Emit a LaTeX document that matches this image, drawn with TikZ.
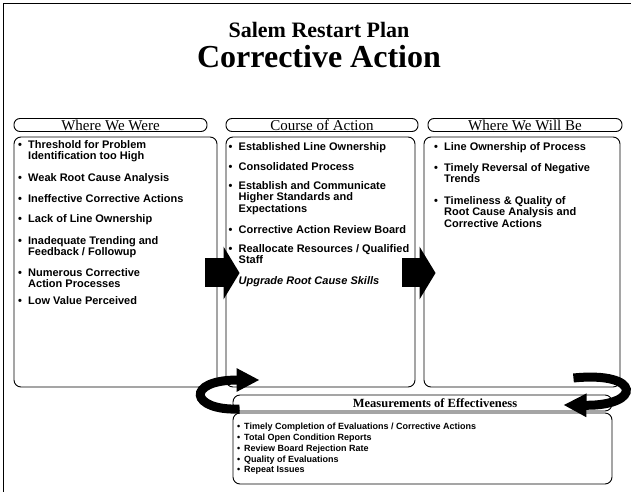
\documentclass[tikz,border=0pt]{standalone}
\usepackage{fontspec}
\setmainfont{Liberation Serif}
\newfontfamily\bsans{Liberation Sans}
\usetikzlibrary{arrows.meta,calc}
\newcommand\mybul{\makebox[10pt][l]{\textbullet}}
\newcommand\myind{\hspace*{10pt}}
\newcommand\mysbul{\makebox[7pt][l]{\textbullet}}
\begin{document}
\begin{tikzpicture}[x=1pt,y=-1pt,
  pill/.style={draw, rounded corners=6pt, line width=0.9pt, inner sep=0pt, minimum height=13pt, font=\fontsize{15}{15}\selectfont},
  colbox/.style={draw, rounded corners=7pt, line width=0.9pt, inner sep=0pt},
  item/.style={anchor=north west, inner sep=0pt, align=left, font=\bsans\bfseries\fontsize{11}{11.5}\selectfont},
  sitem/.style={anchor=north west, inner sep=0pt, align=left, font=\bsans\bfseries\fontsize{9}{10.8}\selectfont},
  blockarr/.style={line width=29pt, -{Triangle[length=16pt,width=52pt]}},
  curvarr/.style={line width=9pt, -{Triangle[length=23pt,width=22pt]}}
]
\useasboundingbox (0,0) rectangle (633,492);
% outer frame
\draw[line width=1pt] (3.5,492) -- (3.5,3.5) -- (631,3.5);
% titles
\node[font=\bfseries\fontsize{22}{22}\selectfont, anchor=base] (t1) at (319,38) {Salem Restart Plan};
\node[font=\bfseries\fontsize{32}{32}\selectfont, anchor=base] (t2) at (319,68) {Corrective Action};
% headers
\node[pill, minimum width=193pt] (P1) at (110.5,125) {Where We Were};
\node[pill, minimum width=192pt] (P2) at (322,125) {Course of Action};
\node[pill, minimum width=194pt] (P3) at (525,125) {Where We Will Be};
% column boxes
\node[colbox, minimum width=203pt, minimum height=250pt] (B1) at (115.5,262) {};
\node[colbox, minimum width=189pt, minimum height=250pt] (B2) at (320.5,262) {};
\node[colbox, minimum width=196pt, minimum height=250pt] (B3) at (522,262) {};
% left items
\node[item] (l1) at (18,140) {\mybul Threshold for Problem\\\myind Identification too High};
\node[item] (l2) at (18,173) {\mybul Weak Root Cause Analysis};
\node[item] (l3) at (18,194) {\mybul Ineffective Corrective Actions};
\node[item] (l4) at (18,214) {\mybul Lack of Line Ownership};
\node[item] (l5) at (18,236) {\mybul Inadequate Trending and\\\myind Feedback / Followup};
\node[item] (l6) at (18,268) {\mybul Numerous Corrective\\\myind Action Processes};
\node[item] (l7) at (18,296) {\mybul Low Value Perceived};
% middle items
\node[item] (m1) at (228.5,142) {\mybul Established Line Ownership};
\node[item] (m2) at (228.5,162) {\mybul Consolidated Process};
\node[item] (m3) at (228.5,181) {\mybul Establish and Communicate\\\myind Higher Standards and\\\myind Expectations};
\node[item] (m4) at (228.5,225) {\mybul Corrective Action Review Board};
\node[item] (m5) at (228.5,244) {\mybul Reallocate Resources / Qualified\\\myind Staff};
\node[item] (m6) at (228.5,276) {\mybul\itshape Upgrade Root Cause Skills};
% right items
\node[item] (r1) at (434,142) {\mybul Line Ownership of Process};
\node[item] (r2) at (434,163) {\mybul Timely Reversal of Negative\\\myind Trends};
\node[item] (r3) at (434,196) {\mybul Timeliness \& Quality of\\\myind Root Cause Analysis and\\\myind Corrective Actions};
% bottom box
\node[colbox, minimum width=379pt, minimum height=71pt] (MB) at (422.5,448.5) {};
\node[draw, rounded corners=7pt, line width=0.9pt, inner sep=0pt, minimum width=379pt, minimum height=16pt] (M) at (422.5,403) {};
\node[font=\bfseries\fontsize{12.5}{12.5}\selectfont] (Mt) at (435,403) {Measurements of Effectiveness};
\node[sitem] (b1) at (237,423) {\mysbul Timely Completion of Evaluations / Corrective Actions\\
\mysbul Total Open Condition Reports\\
\mysbul Review Board Rejection Rate\\
\mysbul Quality of Evaluations\\
\mysbul Repeat Issues};
% block arrows between columns
\coordinate (ya) at (0,273);
\draw[blockarr] ([xshift=-12pt]B1.east |- ya) -- ([xshift=14pt]B2.west |- ya);
\draw[blockarr] ([xshift=-13pt]B2.east |- ya) -- ([xshift=12pt]B3.west |- ya);
% curved arrows
\coordinate (lt) at ([xshift=7pt]M.west);
\coordinate (lh) at ([xshift=34pt]B2.south west);
\draw[curvarr] (lt |- 0,409) .. controls (190,411) and (185,380) .. (lh |- 0,380);
\coordinate (rt) at ([xshift=-47pt]B3.south east);
\coordinate (rh) at ([xshift=-49pt]M.east);
\draw[curvarr] (rt |- 0,378) .. controls (642,371) and (642,406) .. (rh |- 0,405);
\end{tikzpicture}
\end{document}
